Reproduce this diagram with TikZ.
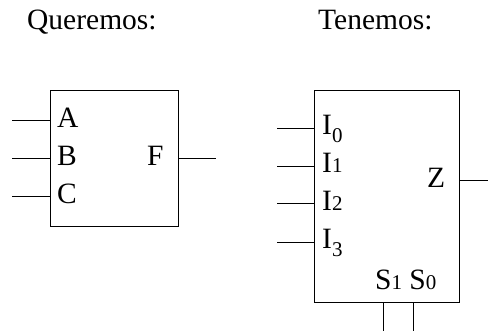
\documentclass[tikz,border=0pt]{standalone}
\usepackage{fontspec}
\setmainfont{Liberation Serif}
\begin{document}
\begin{tikzpicture}[x=1pt,y=-1pt,
  blk/.style={draw, line width=0.8pt, inner sep=0pt, anchor=north west},
  wire/.style={line width=0.8pt},
  lbl/.style={inner sep=0pt, anchor=base west, font=\fontsize{29.5}{30}\selectfont},
  ttl/.style={inner sep=0pt, anchor=base west, font=\fontsize{29.5}{30}\selectfont}]
\newcommand{\smalldig}[1]{{\fontsize{21}{21}\selectfont #1}}
\useasboundingbox (0,0) rectangle (488,331);
% titles
\node[ttl] (t1) at (27,30) {Queremos:};
\node[ttl] (t2) at (318,30) {Tenemos:};
% left block
\node[blk, minimum width=128pt, minimum height=136pt] (b1) at (50,90) {};
\coordinate (ia) at (12,120);
\coordinate (ib) at (12,158);
\coordinate (ic) at (12,196);
\coordinate (of) at (216,158);
\draw[wire] (ia) -- (ia -| b1.west);
\draw[wire] (ib) -- (ib -| b1.west);
\draw[wire] (ic) -- (ic -| b1.west);
\draw[wire] (of -| b1.east) -- (of);
\node[lbl] (la) at (57,128) {A};
\node[lbl] (lb) at (57,166) {B};
\node[lbl] (lc) at (57,204) {C};
\node[lbl] (lf) at (147,166) {F};
% right block
\node[blk, minimum width=145pt, minimum height=212pt] (b2) at (314,90) {};
\coordinate (i0) at (277,128);
\coordinate (i1) at (277,166);
\coordinate (i2) at (277,203);
\coordinate (i3) at (277,242);
\coordinate (oz) at (488,180);
\coordinate (s1) at (383,331);
\coordinate (s0) at (413,331);
\draw[wire] (i0) -- (i0 -| b2.west);
\draw[wire] (i1) -- (i1 -| b2.west);
\draw[wire] (i2) -- (i2 -| b2.west);
\draw[wire] (i3) -- (i3 -| b2.west);
\draw[wire] (oz -| b2.east) -- (oz);
\draw[wire] (s1 |- b2.south) -- (s1);
\draw[wire] (s0 |- b2.south) -- (s0);
\node[lbl] (l0) at (322,135) {I\raisebox{-8pt}{\smalldig{0}}};
\node[lbl] (l1) at (322,173) {I\smalldig{1}};
\node[lbl] (l2) at (322,211) {I\smalldig{2}};
\node[lbl] (l3) at (322,249) {I\raisebox{-8pt}{\smalldig{3}}};
\node[lbl] (lz) at (427,188) {Z};
\node[lbl] (ls) at (375,290) {S\smalldig{1} S\smalldig{0}};
\end{tikzpicture}
\end{document}
